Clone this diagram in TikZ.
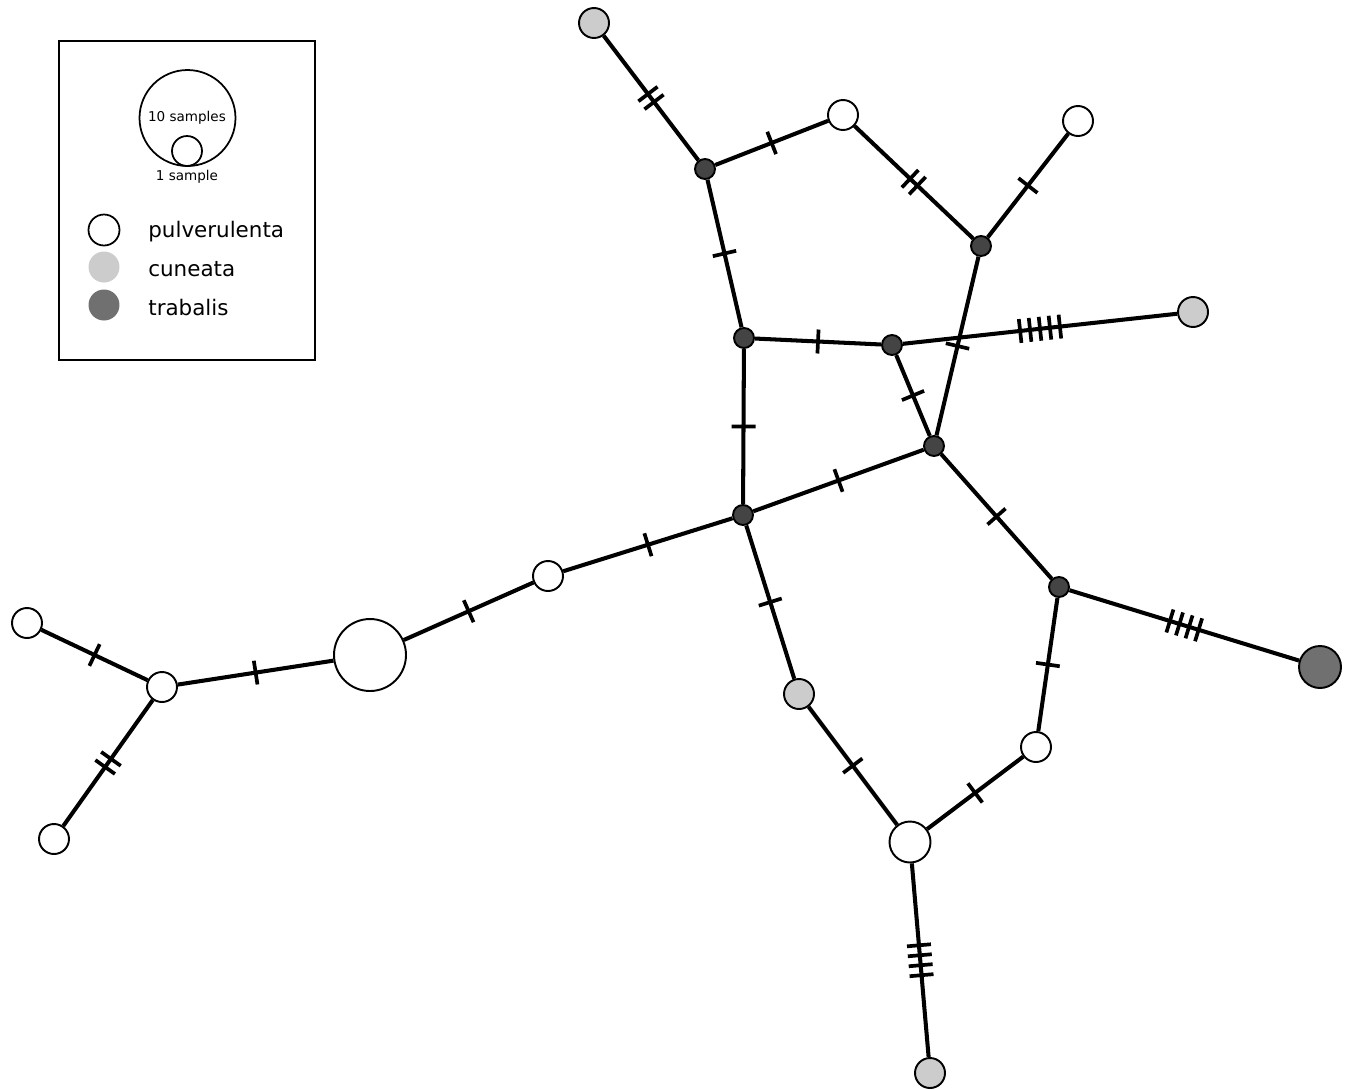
\documentclass[tikz,border=0pt]{standalone}
\usepackage{fontspec}
\setmainfont{DejaVu Sans}
\usetikzlibrary{decorations.markings}

\definecolor{cuncol}{HTML}{CCCCCC}
\definecolor{trabcol}{HTML}{707070}
\definecolor{mvcol}{HTML}{444444}

\tikzset{
	hap/.style={circle, draw=black, line width=1.1pt, inner sep=0pt, minimum size=0.6cm},
	pul/.style={hap, fill=white},
	cun/.style={hap, fill=cuncol},
	trab/.style={hap, fill=trabcol},
	mv/.style={hap, fill=mvcol, minimum size=0.4cm},
	link/.style={line width=2.3pt},
	mut/.style={postaction={decorate, decoration={markings, mark=at position 0.5 with {
		\foreach \k in {1,...,#1} {\draw[line width=2.1pt] ({(\k-(#1+1)/2)*10},-12) -- ({(\k-(#1+1)/2)*10},12);}}}}},
	keytext/.style={anchor=base west, inner sep=0pt, font=\fontsize{12.2}{14}\selectfont},
}

\begin{document}
\begin{tikzpicture}[x=0.02cm, y=-0.02cm]
	\useasboundingbox (0,0) rectangle (1348,1089);
	
	% legend
	\draw[line width=1pt] (59,41) rectangle (315,360);
	\node[circle, draw, line width=1pt, minimum size=1.92cm] (key10) at (187.5,118) {};
	\node[circle, draw, line width=1pt, minimum size=0.6cm] (key1) at (187,151) {};
	\node[font=\fontsize{7.7}{9}\selectfont] (key10txt) at (187,118) {10 samples};
	\node[font=\fontsize{7.7}{9}\selectfont] (key1txt) at (187,177) {1 sample};
	\node[pul, line width=1pt, minimum size=0.62cm] (keypul) at (104,230) {};
	\node[cun, draw=none, minimum size=0.62cm] (keycun) at (104,267) {};
	\node[trab, draw=none, minimum size=0.62cm] (keytrab) at (104,305) {};
	\node[keytext] (keypultxt) at (148,237) {pulverulenta};
	\node[keytext] (keycuntxt) at (148,276) {cuneata};
	\node[keytext] (keytrabtxt) at (148,315) {trabalis};
	
	% haplotypes
	\node[cun] (cun1) at (594,23) {};
	\node[mv] (mv1) at (705,169) {};
	\node[pul] (pul1) at (843,115) {};
	\node[mv] (mv2) at (981,246) {};
	\node[pul] (pul2) at (1078,121) {};
	\node[mv] (mv3) at (744,338) {};
	\node[mv] (mv4) at (892,345) {};
	\node[cun] (cun2) at (1193,312) {};
	\node[mv] (mv5) at (934,446) {};
	\node[mv] (mv6) at (743,515) {};
	\node[pul] (pul3) at (548,576) {};
	\node[pul, minimum size=1.44cm] (pul4) at (370,655) {};
	\node[pul] (pul5) at (162,687) {};
	\node[pul] (pul6) at (27,623) {};
	\node[pul] (pul7) at (54,839) {};
	\node[cun] (cun3) at (799,694) {};
	\node[mv] (mv7) at (1059,587) {};
	\node[trab, minimum size=0.84cm] (trab1) at (1320,667) {};
	\node[pul] (pul8) at (1036,747) {};
	\node[pul, minimum size=0.82cm] (pul9) at (910,842) {};
	\node[cun] (cun4) at (930,1073) {};
	
	% links with mutation steps
	\draw[link, mut=2] (cun1) -- (mv1);
	\draw[link, mut=1] (mv1) -- (pul1);
	\draw[link, mut=2] (pul1) -- (mv2);
	\draw[link, mut=1] (mv2) -- (pul2);
	\draw[link, mut=1] (mv1) -- (mv3);
	\draw[link, mut=1] (mv3) -- (mv4);
	\draw[link, mut=5] (mv4) -- (cun2);
	\draw[link, mut=1] (mv2) -- (mv5);
	\draw[link, mut=1] (mv4) -- (mv5);
	\draw[link, mut=1] (mv3) -- (mv6);
	\draw[link, mut=1] (mv6) -- (mv5);
	\draw[link, mut=1] (mv6) -- (pul3);
	\draw[link, mut=1] (pul3) -- (pul4);
	\draw[link, mut=1] (pul4) -- (pul5);
	\draw[link, mut=1] (pul5) -- (pul6);
	\draw[link, mut=2] (pul5) -- (pul7);
	\draw[link, mut=1] (mv6) -- (cun3);
	\draw[link, mut=1] (cun3) -- (pul9);
	\draw[link, mut=1] (pul9) -- (pul8);
	\draw[link, mut=1] (pul8) -- (mv7);
	\draw[link, mut=1] (mv7) -- (mv5);
	\draw[link, mut=4] (mv7) -- (trab1);
	\draw[link, mut=4] (pul9) -- (cun4);
\end{tikzpicture}
\end{document}
